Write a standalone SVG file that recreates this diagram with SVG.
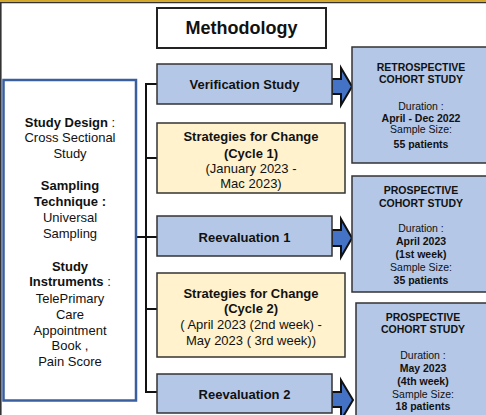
<svg xmlns="http://www.w3.org/2000/svg" width="486" height="415" viewBox="0 0 486 415">
<style>
text{font-family:"Liberation Sans",Arial,sans-serif;fill:#111;text-anchor:middle}
.b{font-weight:bold}
.s13{font-size:13px}
.s10{font-size:10.5px}
.blue{fill:#B4C7E7;stroke:#333;stroke-width:1.5}
.yel{fill:#FFF2CC;stroke:#333;stroke-width:1.5}
.conn{fill:none;stroke:#111;stroke-width:2}
.arr{fill:#4472C4;stroke:#111;stroke-width:2;stroke-linejoin:miter}
</style>
<rect x="0" y="0" width="486" height="415" fill="#fff"/>
<line x1="0" y1="0.7" x2="486" y2="0.7" stroke="#D4A82A" stroke-width="1.4"/>
<line x1="0" y1="2.5" x2="486" y2="2.5" stroke="#333" stroke-width="1.4"/>
<line x1="0.8" y1="2" x2="0.8" y2="415" stroke="#333" stroke-width="1.6"/>

<g id="connectors">
<polyline class="conn" points="157,84 146,84 146,392 157,392"/>
<line class="conn" x1="146" y1="158" x2="157" y2="158" stroke-width="1.5"/>
<line class="conn" x1="136" y1="237" x2="157" y2="237" stroke-width="1.5"/>
<line class="conn" x1="146" y1="309" x2="157" y2="309" stroke-width="1.5"/>
<polygon class="arr" points="332,79 341,79 341,68 352,86.5 341,105 341,94 332,94"/>
<polygon class="arr" points="332,230 341,230 341,219 352,238 341,257 341,246 332,246"/>
<polygon class="arr" points="332,392 341,392 341,380 353,400 341,420 341,407 332,407"/>
</g>

<g id="methodology">
<rect x="157" y="8" width="169" height="40" fill="#fff" stroke="#222" stroke-width="2"/>
<text x="241.5" y="34" class="b" font-size="18">Methodology</text>
</g>

<g id="study-info">
<rect x="3.5" y="80" width="132.5" height="320.5" fill="#fff" stroke="#3A5FA0" stroke-width="2.5"/>
<text class="s13" x="70" y="126.5"><tspan class="b">Study Design</tspan> :</text>
<text class="s13" x="70" y="141.5">Cross Sectional</text>
<text class="s13" x="70" y="157.5">Study</text>
<text class="s13 b" x="70" y="189.5">Sampling</text>
<text class="s13 b" x="70" y="205.5">Technique :</text>
<text class="s13" x="70" y="221.5">Universal</text>
<text class="s13" x="70" y="237.5">Sampling</text>
<text class="s13 b" x="70" y="270.5">Study</text>
<text class="s13" x="70" y="285.5"><tspan class="b">Instruments</tspan> :</text>
<text class="s13" x="70" y="302.5">TelePrimary</text>
<text class="s13" x="70" y="318.5">Care</text>
<text class="s13" x="70" y="334.5">Appointment</text>
<text class="s13" x="70" y="349.5">Book ,</text>
<text class="s13" x="70" y="365.5">Pain Score</text>
</g>

<g id="verification">
<rect class="blue" x="157" y="64" width="175" height="40"/>
<text class="s13 b" x="244.5" y="88.5">Verification Study</text>
</g>

<g id="strategies1">
<rect class="yel" x="157" y="123" width="188" height="70"/>
<text class="s13 b" x="251" y="140.5">Strategies for Change</text>
<text class="s13 b" x="251" y="157.5">(Cycle 1)</text>
<text class="s13" x="251" y="172.5">(January 2023 -</text>
<text class="s13" x="251" y="187.5">Mac 2023)</text>
</g>

<g id="reevaluation1">
<rect class="blue" x="157" y="216" width="175" height="40"/>
<text class="s13 b" x="244.5" y="241.5">Reevaluation 1</text>
</g>

<g id="strategies2">
<rect class="yel" x="157" y="273" width="188" height="84"/>
<text class="s13 b" x="251" y="297.5">Strategies for Change</text>
<text class="s13 b" x="251" y="312.5">(Cycle 2)</text>
<text class="s13" x="251" y="328.5">( April 2023 (2nd week) -</text>
<text class="s13" x="251" y="344.5">May 2023 ( 3rd week))</text>
</g>

<g id="reevaluation2">
<rect class="blue" x="157" y="374" width="175" height="39"/>
<text class="s13 b" x="244.5" y="398.5">Reevaluation 2</text>
</g>

<g id="retrospective">
<rect class="blue" x="352" y="47" width="140" height="116"/>
<text class="s10 b" x="421" y="70.5">RETROSPECTIVE</text>
<text class="s10 b" x="421" y="83">COHORT STUDY</text>
<text class="s10" x="421" y="110">Duration :</text>
<text class="s10 b" x="421" y="121.5">April - Dec 2022</text>
<text class="s10" x="421" y="133">Sample Size:</text>
<text class="s10 b" x="421" y="147.5">55 patients</text>
</g>

<g id="prospective1">
<rect class="blue" x="352" y="176" width="140" height="116"/>
<text class="s10 b" x="421" y="193.7">PROSPECTIVE</text>
<text class="s10 b" x="421" y="206.5">COHORT STUDY</text>
<text class="s10" x="421" y="232">Duration :</text>
<text class="s10 b" x="421" y="244.7">April 2023</text>
<text class="s10 b" x="421" y="257.7">(1st week)</text>
<text class="s10" x="421" y="271">Sample Size:</text>
<text class="s10 b" x="421" y="283.7">35 patients</text>
</g>

<g id="prospective2">
<rect class="blue" x="356" y="303" width="136" height="120"/>
<text class="s10 b" x="423" y="321">PROSPECTIVE</text>
<text class="s10 b" x="423" y="333">COHORT STUDY</text>
<text class="s10" x="423" y="358.7">Duration :</text>
<text class="s10 b" x="423" y="372">May 2023</text>
<text class="s10 b" x="423" y="385.4">(4th week)</text>
<text class="s10" x="423" y="398">Sample Size:</text>
<text class="s10 b" x="423" y="410.4">18 patients</text>
</g>
</svg>
